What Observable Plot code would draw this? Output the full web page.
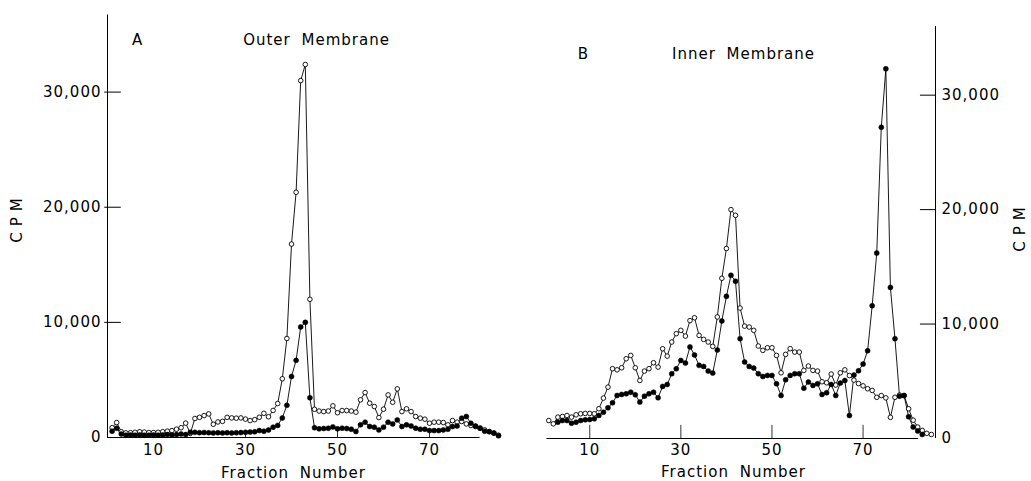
<!DOCTYPE html>
<html><head><meta charset="utf-8">
<script src="https://cdn.jsdelivr.net/npm/d3@7"></script>
<script src="https://cdn.jsdelivr.net/npm/@observablehq/plot@0.6"></script>
<style>
html,body{margin:0;padding:0;background:#fff;}
#wrap{position:relative;width:1031px;height:481px;overflow:hidden;background:#fff;}
#wrap svg{position:absolute;top:0;}
</style></head><body><div id="wrap"></div>
<script>
// Fraction numbers 1..85
const fractions = d3.range(1, 86);

// Panel A — Outer Membrane (values in thousands of CPM)
const outerOpen = [0.85,1.3,0.5,0.4,0.42,0.45,0.5,0.47,0.43,0.43,
  0.45,0.5,0.55,0.6,0.72,0.85,1.25,0.35,1.65,1.75,
  1.9,2.05,1.15,1.35,1.4,1.75,1.7,1.68,1.7,1.6,
  1.47,1.55,1.76,2.1,1.8,2.35,2.95,5.1,8.6,16.8,
  21.3,31.0,32.4,12.0,2.45,2.3,2.25,2.3,2.75,2.15,
  2.34,2.34,2.3,2.2,3.27,3.9,2.98,2.69,1.73,2.46,
  3.7,3.06,4.22,2.25,2.49,2.25,1.82,1.68,1.59,1.24,
  1.33,1.33,1.3,1.1,1.47,1.33,1.39,1.18,1.04,0.95,
  0.81,0.66,0.52,0.38,0.2];
const outerFilled = [0.55,0.8,0.3,0.2,0.22,0.2,0.22,0.2,0.2,0.22,
  0.2,0.22,0.25,0.22,0.25,0.3,0.25,0.45,0.45,0.42,
  0.43,0.42,0.4,0.42,0.4,0.42,0.4,0.42,0.43,0.45,
  0.47,0.5,0.6,0.55,0.65,0.9,1.05,1.7,2.8,5.3,
  6.7,9.6,10.0,3.45,0.85,0.75,0.78,0.8,0.92,0.75,
  0.81,0.78,0.72,0.52,1.1,1.33,0.95,0.9,0.66,0.9,
  1.33,1.18,1.53,0.95,1.1,1.0,0.81,0.72,0.72,0.6,
  0.6,0.6,0.66,0.72,0.95,1.0,1.68,1.82,1.24,1.0,
  0.81,0.55,0.5,0.38,0.15];

// Panel B — Inner Membrane (values in thousands of CPM)
const innerOpen = [1.57,1.28,1.87,1.92,2.01,1.87,2.07,2.16,2.19,2.19,
  2.16,2.6,3.53,4.49,6.1,6.0,6.18,6.97,7.26,6.18,
  5.07,5.89,6.1,6.62,6.24,7.84,7.2,8.43,9.16,9.45,
  8.95,10.3,10.55,9.01,8.66,8.43,8.05,10.62,14.0,16.6,
  20.0,19.5,11.4,9.82,9.74,9.45,8.08,7.7,7.93,7.93,
  7.26,5.74,7.35,7.85,7.55,7.55,5.95,6.33,5.95,5.89,
  4.96,4.87,5.63,4.67,5.74,6.0,5.5,5.1,4.8,4.6,
  4.35,4.2,3.6,3.75,3.55,1.85,3.6,3.8,3.75,2.6,
  1.6,1.0,0.7,0.45,0.35];
const innerFilled = [null,null,1.43,1.57,1.57,1.34,1.43,1.57,1.63,1.66,
  1.72,2.01,2.3,2.68,3.12,3.76,3.85,3.91,4.05,3.82,
  3.18,3.7,3.91,4.05,3.56,4.55,4.72,5.66,6.1,6.82,
  6.59,8.0,7.3,6.39,6.3,5.89,5.72,7.73,10.27,12.42,
  14.26,13.74,8.72,6.68,6.3,6.15,5.66,5.42,5.51,5.51,
  4.78,3.76,5.13,5.51,5.66,5.66,4.4,4.93,4.64,4.78,
  3.85,4.0,4.72,3.76,4.84,5.07,2.01,5.54,5.92,6.5,
  7.67,11.6,16.2,27.2,32.3,13.2,8.72,3.7,3.76,1.9,
  1.0,0.65,0.35,null,null];

// Axis ticks
const xTicks = [10, 30, 50, 70];
const yTicks = [0, 10000, 20000, 30000];
const fmt = d3.format(",");

const table = (open, filled) => fractions.map((f, i) => ({
  f,
  open: open[i] == null ? null : open[i] * 1000,
  filled: filled[i] == null ? null : filled[i] * 1000
}));
const dataA = table(outerOpen, outerFilled);
const dataB = table(innerOpen, innerFilled);

const style = {fontFamily: "'DejaVu Sans', sans-serif", fontSize: "15px", background: "white",
  overflow: "visible", letterSpacing: "1px", wordSpacing: "5px", color: "black"};

function seriesMarks(data) {
  const o = data.filter(d => d.open != null), b = data.filter(d => d.filled != null);
  return [
    Plot.line(o, {x: "f", y: "open", stroke: "black", strokeWidth: 0.9}),
    Plot.line(b, {x: "f", y: "filled", stroke: "black", strokeWidth: 0.9}),
    Plot.dot(o, {x: "f", y: "open", r: 2.3, fill: "white", stroke: "black", strokeWidth: 0.9}),
    Plot.dot(b, {x: "f", y: "filled", r: 2.5, fill: "black", stroke: "black", strokeWidth: 0.5})
  ];
}

const lab = {frameAnchor: "top-left", textAnchor: "middle", lineAnchor: "middle", fill: "black"};

const plotA = Plot.plot({
  width: 515, height: 481,
  marginLeft: 107, marginRight: 17, marginTop: 11, marginBottom: 44,
  x: {domain: [0, 85]},
  y: {domain: [0, 37000]},
  style,
  marks: [
    Plot.ruleX([0], {y1: 0, y2: 36700, stroke: "black", strokeWidth: 1}),
    Plot.ruleY([0], {x1: 0, x2: 81, stroke: "black", strokeWidth: 1}),
    Plot.ruleY(yTicks.filter(v => v > 0), {y: d => d, x1: -0.6, x2: 3, stroke: "black", strokeWidth: 1}),
    Plot.ruleX(xTicks, {x: d => d, y1: 0, y2: 550, stroke: "black", strokeWidth: 0.8}),
    Plot.axisY({ticks: yTicks, tickSize: 0, tickPadding: 6, tickFormat: fmt, label: null}),
    Plot.axisX({ticks: xTicks, tickSize: 0, tickPadding: 7, label: null}),
    ...seriesMarks(dataA),
    Plot.text(["A"], {...lab, dx: 30, dy: 29}),
    Plot.text(["Outer Membrane"], {...lab, dx: 209, dy: 29}),
    Plot.text(["Fraction Number"], {...lab, dx: 186, dy: 462}),
    Plot.text(["CPM"], {...lab, dx: -90, dy: 206, rotate: -90})
  ]
});

const xMaxB = 85.9;
const plotB = Plot.plot({
  width: 516, height: 481,
  marginLeft: 28.7, marginRight: 96, marginTop: 26, marginBottom: 43,
  x: {domain: [0, xMaxB]},
  y: {domain: [0, 36000]},
  style,
  marks: [
    Plot.ruleX([xMaxB], {stroke: "black", strokeWidth: 1}),
    Plot.ruleY([0], {x1: 0.6, x2: 82.2, stroke: "black", strokeWidth: 1}),
    Plot.ruleY(yTicks.filter(v => v > 0), {y: d => d, x1: xMaxB - 3.3, x2: xMaxB, stroke: "black", strokeWidth: 1}),
    Plot.ruleX(xTicks, {x: d => d, y1: 0, y2: 1150, stroke: "black", strokeWidth: 0.8}),
    Plot.axisY({anchor: "right", ticks: yTicks, tickSize: 0, tickPadding: 6, tickFormat: fmt, label: null}),
    Plot.axisX({ticks: xTicks, tickSize: 0, tickPadding: 6, label: null}),
    ...seriesMarks(dataB),
    Plot.text(["B"], {...lab, dx: 39.3, dy: 28}),
    Plot.text(["Inner Membrane"], {...lab, dx: 199.3, dy: 28}),
    Plot.text(["Fraction Number"], {...lab, dx: 189.3, dy: 446}),
    Plot.text(["CPM"], {...lab, dx: 476.3, dy: 200, rotate: -90})
  ]
});

plotA.style.left = "0px";
plotB.style.left = "515px";
for (const p of [plotA, plotB]) {
  d3.select(p).selectAll("text").filter(function() { return this.textContent === "CPM"; })
    .attr("letter-spacing", "6px");
}
const wrap = document.getElementById("wrap");
wrap.appendChild(plotA);
wrap.appendChild(plotB);
</script></body></html>
